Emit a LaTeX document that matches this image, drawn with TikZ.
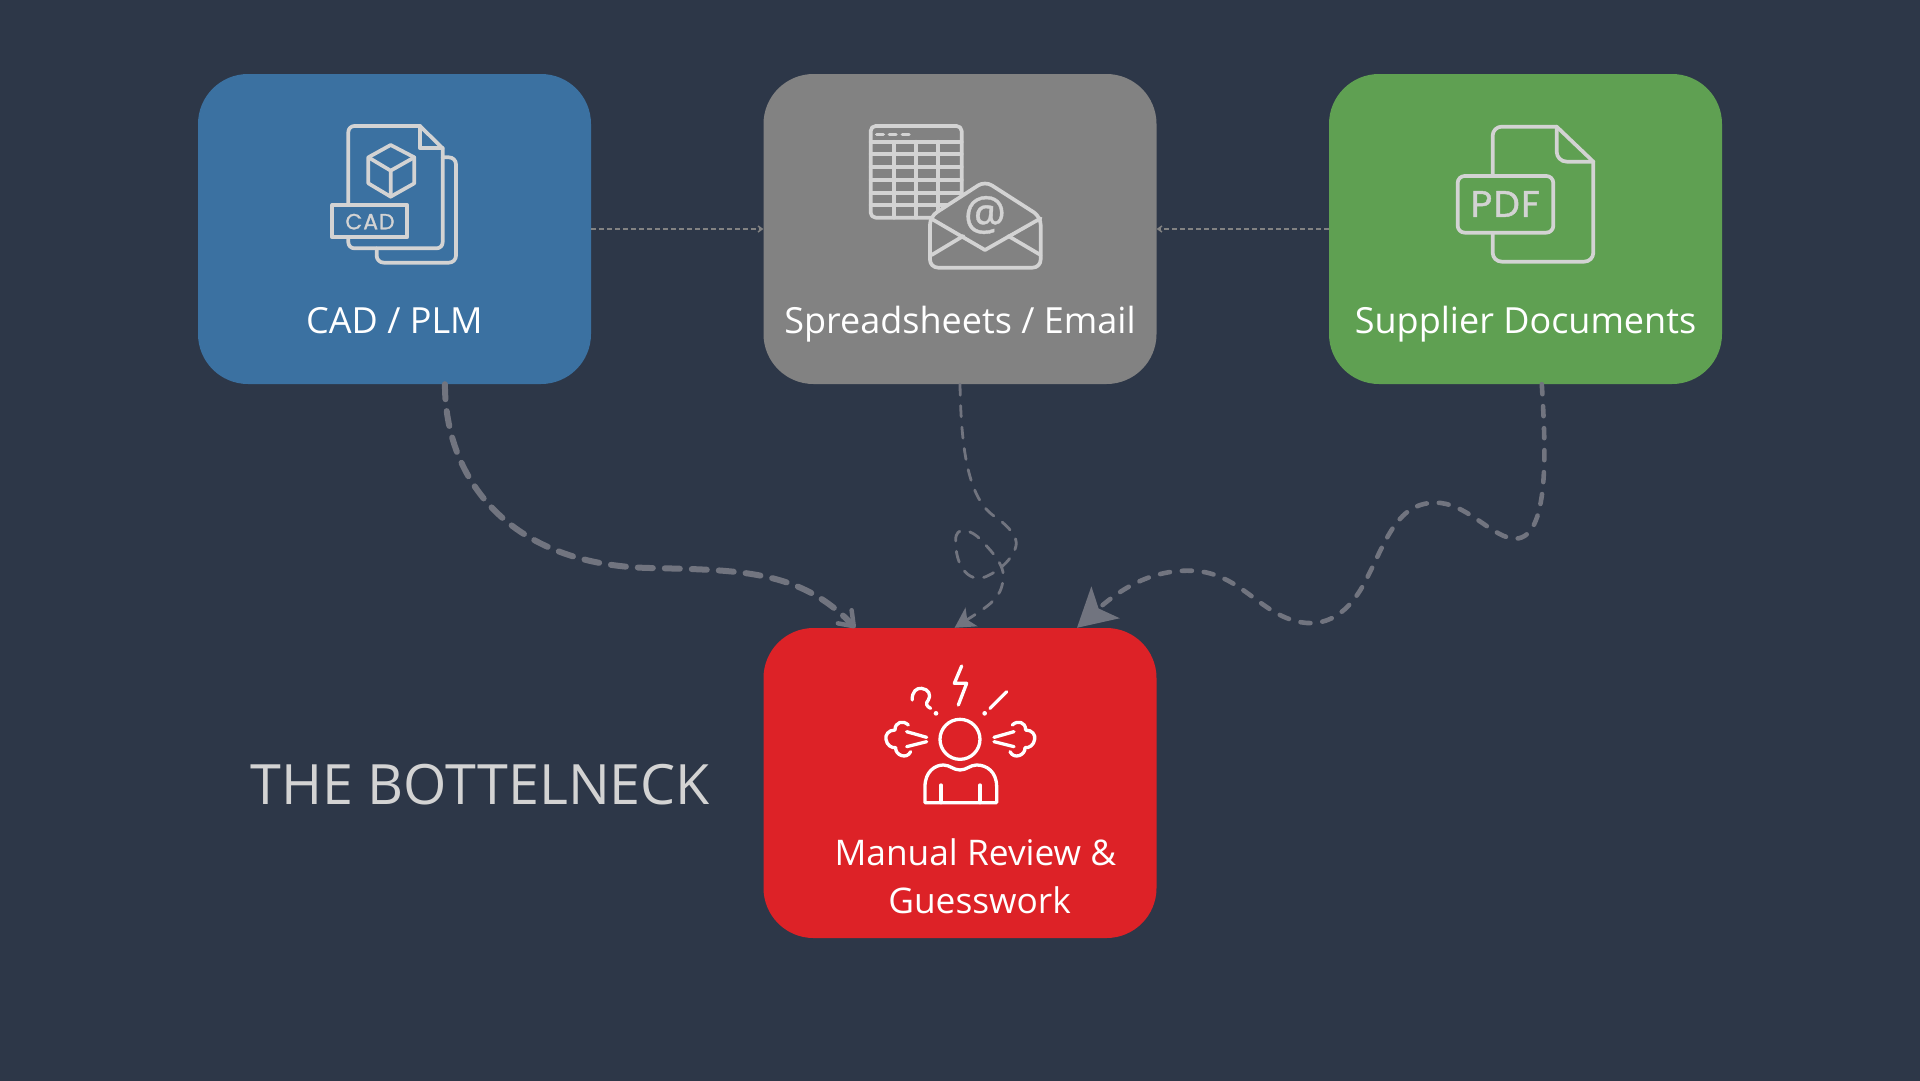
\documentclass[tikz,border=0pt]{standalone}
\usepackage{fontspec}
\setmainfont{Open Sans}
\newfontfamily\iconfont[FakeBold=1.2,LetterSpace=4]{Poppins}
\newfontfamily\atfont[FakeBold=0.8]{Open Sans}
\usetikzlibrary{arrows.meta}
\definecolor{bgcol}{HTML}{2D3748}
\definecolor{cadcol}{HTML}{3B71A1}
\definecolor{sheetcol}{HTML}{828282}
\definecolor{suppcol}{HTML}{5FA052}
\definecolor{manualcol}{HTML}{DD2227}
\definecolor{flowcol}{HTML}{71747F}
\definecolor{iconcol}{HTML}{D3D3D3}

\begin{document}
\begin{tikzpicture}[x=1pt,y=-1pt,
  box/.style={rectangle,rounded corners=50pt,minimum width=393pt,minimum height=310pt,inner sep=0pt},
  boxlabel/.style={text=white,font=\fontsize{36}{48}\selectfont,align=center,inner sep=0pt},
  thinflow/.style={-{Straight Barb[length=4pt,width=6pt]},draw=sheetcol,line width=1.5pt,dash pattern=on 5pt off 3pt},
  wave/.style={draw=flowcol,line cap=round},
  iconstroke/.style={draw=iconcol,line width=3.7pt,line join=round,line cap=round},
  angerstroke/.style={draw=white,line width=3.3pt,line join=round,line cap=round},
  iconzoom/.style={x=0.3333pt,y=-0.3333pt}]
\useasboundingbox (0,0) rectangle (1920,1080);
\fill[bgcol] (-5,-5) rectangle (1925,1085);

% The four boxes
\node[box,fill=cadcol] (cad) at (394.5,229) {};
\node[box,fill=sheetcol] (sheets) at (960,229) {};
\node[box,fill=suppcol] (supp) at (1525.5,229) {};
\node[box,fill=manualcol] (manual) at (960,783) {};

% Box labels
\node[boxlabel,anchor=base] (cadlabel) at (394.5,333.5) {CAD / PLM};
\node[boxlabel,anchor=base] (sheetslabel) at (960,333.5) {Spreadsheets / Email};
\node[boxlabel,anchor=base] (supplabel) at (1525.5,333.5) {Supplier Documents};
\node[boxlabel,font=\fontsize{35.3}{48}\selectfont] (manuallabel) at (979.6,876.5) {Manual Review \&\kern8.6pt\\Guesswork};
\node[text=iconcol,font=\fontsize{55.6}{60}\selectfont,inner sep=0pt] (bottleneck) at (480.5,785) {THE BOTTELNECK};

% Thin arrows between the top boxes
\draw[thinflow] (cad.east) -- (sheets.west);
\draw[thinflow] (supp.west) -- (sheets.east);

% Dashed curves down to the red box
\draw[wave,line width=6pt,dash pattern=on 15pt off 12pt,-{Straight Barb[length=13pt,width=19pt,line width=4.5pt,round]}]
  (cad.-72) .. controls (445,480) and (510,565) .. (650,568)
  .. controls (740,570) and (800,570) .. (manual.124);
\draw[wave,line width=2.8pt,dash pattern=on 11pt off 10.5pt,-{Stealth[length=20pt,width=22pt,inset=5pt]}]
  (sheets.south) .. controls (961,440) and (966,498) .. (995,516.7)
  .. controls (1010,527) and (1018,538) .. (1016,546)
  .. controls (1014,556) and (1002,570) .. (985,577)
  .. controls (968,583) and (955,565) .. (955.7,540)
  .. controls (955.5,526) and (970,528) .. (981.7,540.7)
  .. controls (990,550) and (1006,565) .. (1003,580)
  .. controls (1001,598) and (990,605) .. (manual.92);
\draw[wave,line width=4.6pt,dash pattern=on 10pt off 12pt,-{Stealth[length=38pt,width=42pt,inset=9pt]}]
  (supp.-84.5) .. controls (1545,440) and (1552,545) .. (1511.7,538.3)
  .. controls (1490,535) and (1465,502) .. (1435,502.7)
  .. controls (1395,503) and (1385,545) .. (1363.3,585)
  .. controls (1345,618) and (1320,630) .. (1290,619.3)
  .. controls (1255,607) and (1235,571) .. (1190,570.7)
  .. controls (1155,570) and (1125,585) .. (manual.53.5);

% CAD icon
\begin{scope}[shift={(300,100)},iconzoom,iconstroke]
  \draw (145,310) [rounded corners=6pt] -- (145,78) [sharp corners] -- (360,78) -- (428,145)
    [rounded corners=6pt] -- (428,445) -- (145,445) -- (145,415);
  \draw (360,78) -- (360,145) -- (428,145);
  \draw (428,172) [rounded corners=7pt] -- (468,172) -- (468,488) -- (230,488) -- (230,445);
  \draw (97,315) rectangle (322,412);
  \draw (272,135) -- (343,172) -- (343,250) -- (272,290) -- (205,250) -- (205,172) -- cycle;
  \draw (205,172) -- (272,212) -- (343,172) (272,212) -- (272,290);
  \node[text=iconcol,font=\fontsize{22}{22}\iconfont,inner sep=0pt] (cadicontext) at (210,365) {CAD};
\end{scope}

% Spreadsheet and envelope icon
\begin{scope}[shift={(850,100)},iconzoom,iconstroke]
  \draw[rounded corners=5pt] (62,78) rectangle (335,353);
  \foreach \rowy in {125,163,200,240,278,315}
    \draw (62,\rowy) -- (335,\rowy);
  \foreach \colx in {133,198,265}
    \draw (\colx,125) -- (\colx,353);
  \foreach \dashx in {80,118,157}
    \draw[line width=3.5pt] (\dashx,103) -- +(20,0);
  \draw[fill=sheetcol,rounded corners=8pt] (240,350) -- (405,243) -- (572,350) -- (572,503) -- (240,503) -- cycle;
  \draw (242,355) -- (405,450) -- (572,355);
  \draw (245,465) -- (340,408) (572,465) -- (475,408);
  \node[text=iconcol,font=\fontsize{47}{47}\atfont,inner sep=0pt] (emailat) at (405,345) {@};
\end{scope}

% PDF icon
\begin{scope}[shift={(1430,100)},iconzoom,iconstroke]
  \draw (188,225) [rounded corners=9pt] -- (188,80) [sharp corners] -- (380,80) -- (490,185)
    [rounded corners=9pt] -- (490,485) -- (188,485) -- (188,400);
  \draw[rounded corners=10pt] (380,80) -- (380,185) -- (490,185);
  \draw[rounded corners=7pt] (83,228) rectangle (370,398);
  \node[text=iconcol,font=\fontsize{37}{37}\iconfont,inner sep=0pt] (pdficontext) at (226,312) {PDF};
\end{scope}

% Frustrated person icon
\begin{scope}[shift={(860,650)},iconzoom,angerstroke]
  \draw (300,268) circle[radius=60];
  \draw (243,405) -- (243,458) (360,405) -- (360,458);
  \draw (195,458) -- (195,410) .. controls (195,365) and (225,345) .. (250,345)
    .. controls (270,345) and (280,360) .. (300,360) .. controls (320,360) and (330,345) .. (350,345)
    .. controls (380,345) and (410,365) .. (410,410) -- (410,458) -- cycle;
  \draw (305,48) -- (283,100) -- (320,100) -- (295,165);
  \draw (157,150) .. controls (155,125) and (170,113) .. (185,115) .. controls (205,117) and (215,135) .. (205,150)
    .. controls (195,160) and (200,170) .. (212,175);
  \fill[white] (228,190) circle[radius=7] (374,190) circle[radius=7];
  \draw (440,125) -- (390,175);
  \draw (140,245) -- (200,262) (140,290) -- (200,275);
  \draw (462,245) -- (402,262) (462,290) -- (402,275);
  \draw (145,225) .. controls (130,210) and (105,215) .. (105,240) .. controls (85,240) and (75,255) .. (78,268)
    .. controls (80,285) and (95,295) .. (107,293) .. controls (105,315) and (140,330) .. (152,305);
  \draw (457,225) .. controls (472,210) and (497,215) .. (497,240) .. controls (517,240) and (527,255) .. (524,268)
    .. controls (522,285) and (507,295) .. (495,293) .. controls (497,315) and (462,330) .. (450,305);
\end{scope}
\end{tikzpicture}
\end{document}
